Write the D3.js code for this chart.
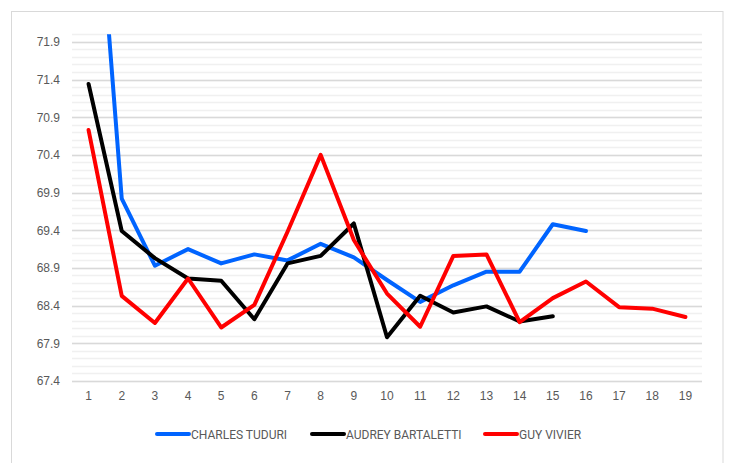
<!DOCTYPE html>
<html>
<head>
<meta charset="utf-8">
<script src="https://cdn.jsdelivr.net/npm/d3@7"></script>
<style>
  body { margin: 0; background: #fff; }
  svg { display: block; font-family: Roboto, "Open Sans", sans-serif; }
</style>
</head>
<body>
<div id="chart"></div>
<script>
// Données
const categories = d3.range(1, 20);
const charles = [75.5, 69.82, 68.93, 69.15, 68.96, 69.08, 69.0, 69.22, 69.04, 68.74, 68.45, 68.67, 68.85, 68.85, 69.48, 69.39];
const audrey = [71.34, 69.39, 69.03, 68.76, 68.73, 68.22, 68.96, 69.06, 69.49, 67.98, 68.53, 68.31, 68.39, 68.19, 68.26];
const guy = [70.73, 68.53, 68.17, 68.76, 68.11, 68.41, 69.38, 70.40, 69.27, 68.56, 68.12, 69.06, 69.08, 68.18, 68.50, 68.72, 68.38, 68.36, 68.25];
const majorTicks = [67.4, 67.9, 68.4, 68.9, 69.4, 69.9, 70.4, 70.9, 71.4, 71.9];

const series = [
  { name: "CHARLES TUDURI", values: charles, color: "#0064ff" },
  { name: "AUDREY BARTALETTI", values: audrey, color: "#000000" },
  { name: "GUY VIVIER", values: guy, color: "#ff0000" }
];

const W = 739, H = 463;
const plot = { left: 72, right: 702, top: 34.3, bottom: 381 };

const svg = d3.select("#chart").append("svg")
  .attr("width", W)
  .attr("height", H);

// Cadre du graphique
svg.append("rect")
  .attr("x", 11.5).attr("y", 11.5)
  .attr("width", 711.5).attr("height", 470)
  .attr("fill", "#fff")
  .attr("stroke", "#d9d9d9");

// Échelles
const x = d3.scaleBand()
  .domain(categories)
  .range([plot.left, plot.right]);

const y = d3.scaleLinear()
  .domain([67.4, 72.0])
  .range([plot.bottom, plot.top]);

// Quadrillage secondaire (0.1)
const minor = d3.range(0, 47).map(i => +(67.4 + i * 0.1).toFixed(1));
svg.append("g")
  .selectAll("line")
  .data(minor)
  .join("line")
  .attr("x1", plot.left).attr("x2", plot.right)
  .attr("y1", d => Math.round(y(d)) + 0.5)
  .attr("y2", d => Math.round(y(d)) + 0.5)
  .attr("stroke", "#f0f0f0")
  .attr("stroke-width", 1.5);

// Quadrillage principal
svg.append("g")
  .selectAll("line")
  .data(majorTicks)
  .join("line")
  .attr("x1", plot.left).attr("x2", plot.right)
  .attr("y1", d => Math.round(y(d)) + 0.5)
  .attr("y2", d => Math.round(y(d)) + 0.5)
  .attr("stroke", "#d9d9d9")
  .attr("stroke-width", 1.5);

// Axe Y
const yAxis = svg.append("g")
  .attr("transform", `translate(${plot.left - 12},0)`)
  .call(d3.axisLeft(y).tickValues(majorTicks).tickFormat(d3.format(".1f")).tickSize(0).tickPadding(0));
yAxis.select(".domain").remove();
yAxis.selectAll("text")
  .attr("fill", "#595959")
  .style("font-size", "12px");

// Axe X
const xAxis = svg.append("g")
  .attr("transform", `translate(0,${plot.bottom + 10})`)
  .call(d3.axisBottom(x).tickSize(0).tickPadding(0));
xAxis.select(".domain").remove();
xAxis.selectAll("text")
  .attr("fill", "#595959")
  .style("font-size", "12px");

// Courbes
svg.append("clipPath").attr("id", "plot-clip")
  .append("rect")
  .attr("x", plot.left).attr("y", plot.top)
  .attr("width", plot.right - plot.left)
  .attr("height", plot.bottom - plot.top);

const line = d3.line()
  .x((d, i) => x(categories[i]) + x.bandwidth() / 2)
  .y(d => y(d));

svg.append("g")
  .attr("clip-path", "url(#plot-clip)")
  .selectAll("path")
  .data(series)
  .join("path")
  .attr("d", s => line(s.values))
  .attr("fill", "none")
  .attr("stroke", s => s.color)
  .attr("stroke-width", 4)
  .attr("stroke-linejoin", "round")
  .attr("stroke-linecap", "round");

// Légende
const legendX = [157, 312, 485];
const legend = svg.append("g").attr("transform", "translate(0,434)");
series.forEach((s, i) => {
  legend.append("line")
    .attr("x1", legendX[i]).attr("x2", legendX[i] + 32)
    .attr("y1", 0).attr("y2", 0)
    .attr("stroke", s.color)
    .attr("stroke-width", 4)
    .attr("stroke-linecap", "round");
  legend.append("text")
    .attr("x", legendX[i] + 34)
    .attr("y", 4.5)
    .attr("fill", "#595959")
    .style("font-size", "12px")
    .text(s.name);
});
</script>
</body>
</html>
